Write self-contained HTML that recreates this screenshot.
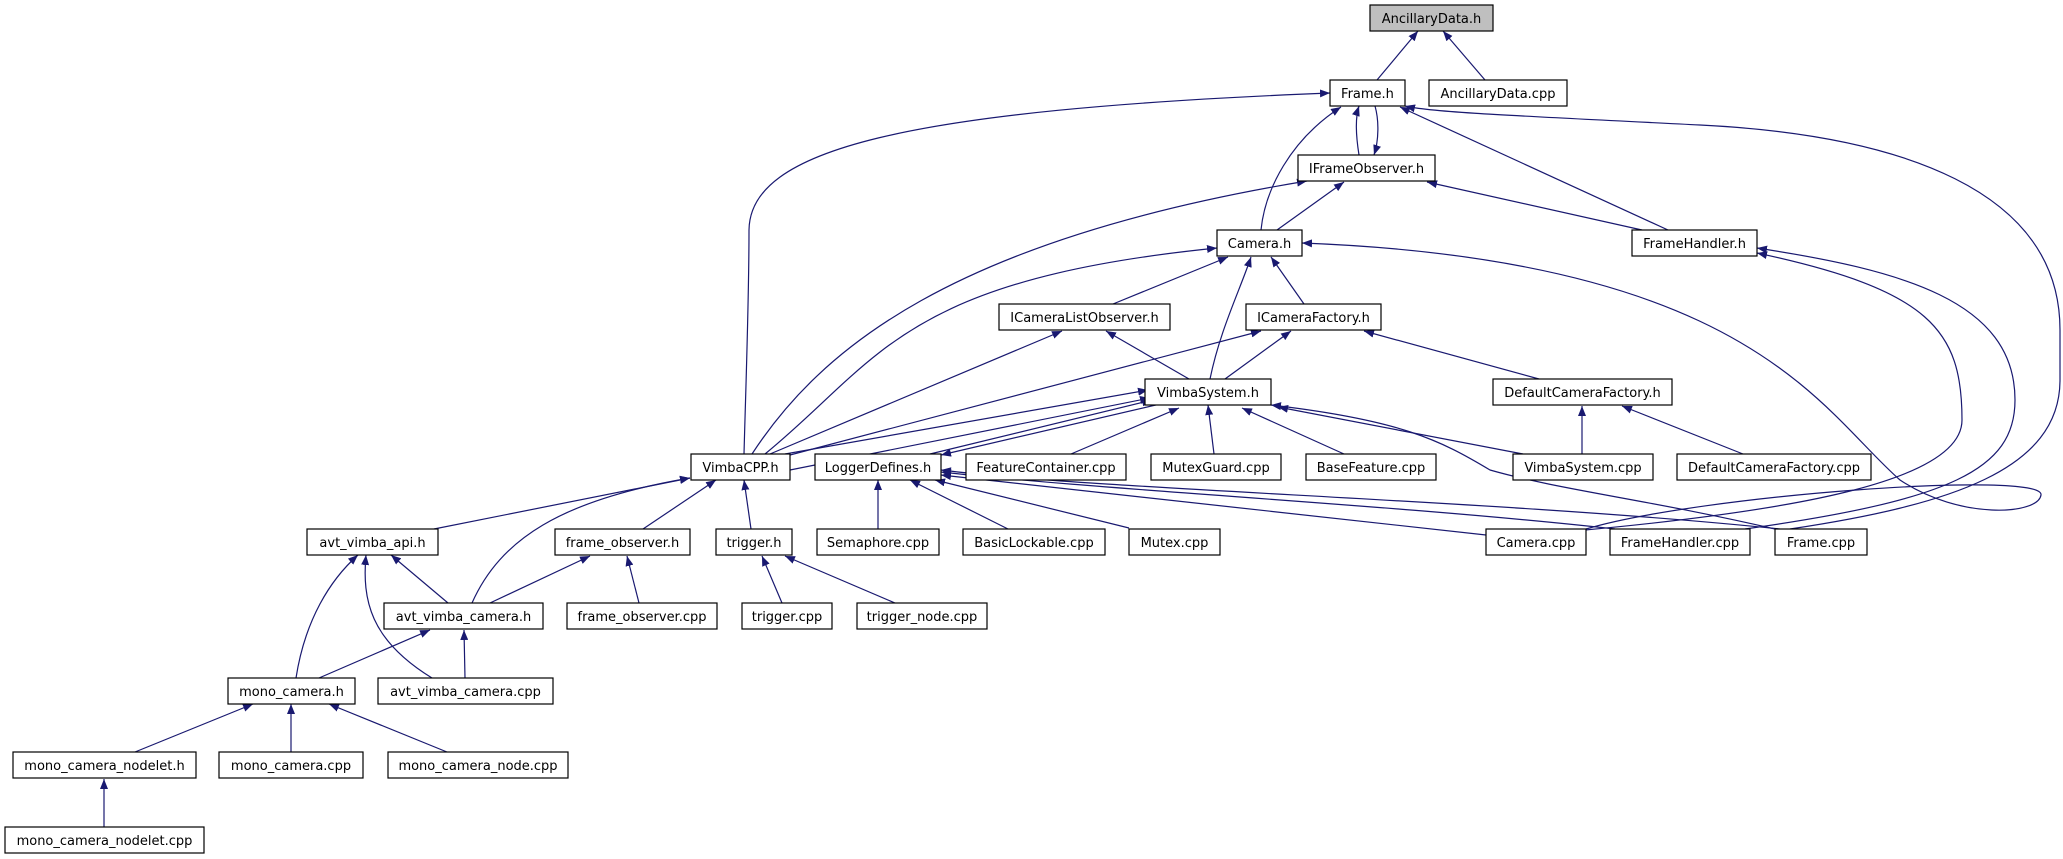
<!DOCTYPE html>
<html><head><meta charset="utf-8"><style>
html,body{margin:0;padding:0;background:#fff}
svg{display:block}
text{font-family:"DejaVu Sans","Liberation Sans",sans-serif;font-size:13px;fill:#000}
.e{fill:none;stroke:#191970;stroke-width:1.2}
.n{fill:#fff;stroke:#000;stroke-width:1.2}
</style></head><body>
<svg width="2063" height="859" viewBox="0 0 2063 859" xmlns="http://www.w3.org/2000/svg">
<defs><marker id="a" viewBox="0 0 10 8" refX="10" refY="4" markerWidth="10" markerHeight="8" markerUnits="userSpaceOnUse" orient="auto"><path d="M0,0 L10,4 L0,8 z" fill="#191970"/></marker></defs>
<g class="e" marker-end="url(#a)">
<path d="M1377,80 L1418,31"/>
<path d="M1485,80 L1443,31"/>
<path d="M1359,155 C1355,130 1356,115 1359,106"/>
<path d="M1375,106 C1379,120 1379,140 1374,155"/>
<path d="M1261,230 C1265,190 1290,140 1341,107"/>
<path d="M1668,230 L1400,107"/>
<path d="M744,454 C746,380 749,300 749,230 C750,150 900,110 1330,93"/>
<path d="M1790,529 C1950,505 2060,470 2060,380 L2060,330 C2060,190 1900,135 1700,125 C1500,115 1430,112 1405,106"/>
<path d="M1277,230 L1344,182"/>
<path d="M1642,230 L1427,182"/>
<path d="M752,454 C820,350 950,240 1307,181"/>
<path d="M765,454 C880,360 900,280 1217,248"/>
<path d="M1113,304 L1228,257"/>
<path d="M1304,304 L1271,257"/>
<path d="M1210,379 C1220,330 1240,290 1251,257"/>
<path d="M1586,529 C1700,495 2045,470 2041,495 C2038,515 1960,520 1900,480 C1820,410 1750,260 1302,243"/>
<path d="M1745,529 C1950,500 2015,470 2015,400 C2015,300 1900,270 1757,248"/>
<path d="M1585,530 C1800,510 1962,480 1962,420 C1962,330 1930,290 1757,253"/>
<path d="M1189,379 L1106,331"/>
<path d="M770,454 L1062,331"/>
<path d="M1225,379 L1291,331"/>
<path d="M790,455 L1261,331"/>
<path d="M1539,379 L1364,331"/>
<path d="M785,454 L1148,390"/>
<path d="M790,470 L1150,398"/>
<path d="M930,454 L1152,400"/>
<path d="M1160,404 L941,455"/>
<path d="M1071,454 L1179,408"/>
<path d="M1214,454 L1208,405"/>
<path d="M1344,454 L1242,408"/>
<path d="M1523,454 L1278,407"/>
<path d="M1775,529 C1650,500 1560,490 1490,470 C1440,440 1400,420 1271,405"/>
<path d="M1582,454 L1582,406"/>
<path d="M1743,454 L1622,406"/>
<path d="M878,529 L878,480"/>
<path d="M1008,529 L910,480"/>
<path d="M1129,528 L935,480"/>
<path d="M1486,535 L941,475"/>
<path d="M1615,529 C1400,505 1100,490 941,472"/>
<path d="M1780,529 C1500,500 1100,490 941,470"/>
<path d="M434,529 L690,478"/>
<path d="M643,529 L716,480"/>
<path d="M751,529 L744,480"/>
<path d="M472,603 C500,540 560,500 690,478"/>
<path d="M448,603 L391,555"/>
<path d="M296,678 C305,620 330,580 358,555"/>
<path d="M432,678 C370,640 362,600 366,555"/>
<path d="M490,603 L590,556"/>
<path d="M639,603 L627,556"/>
<path d="M782,603 L762,556"/>
<path d="M895,603 L785,556"/>
<path d="M319,678 L430,630"/>
<path d="M465,678 L464,630"/>
<path d="M135,752 L253,704"/>
<path d="M291,752 L291,704"/>
<path d="M447,752 L329,704"/>
<path d="M104,827 L104,779"/>
</g>
<g>
<rect x="1370" y="5" width="123" height="26" fill="#bfbfbf" stroke="#000" stroke-width="1.2"/><text x="1431.5" y="23" text-anchor="middle">AncillaryData.h</text>
</g>
<g text-anchor="middle">
<rect class="n" x="1330" y="80" width="75" height="26"/><text x="1367.5" y="98">Frame.h</text>
<rect class="n" x="1429" y="80" width="138" height="26"/><text x="1498" y="98">AncillaryData.cpp</text>
<rect class="n" x="1298" y="155" width="137" height="26"/><text x="1366.5" y="173">IFrameObserver.h</text>
<rect class="n" x="1217" y="230" width="85" height="26"/><text x="1259.5" y="248">Camera.h</text>
<rect class="n" x="1632" y="230" width="125" height="26"/><text x="1694.5" y="248">FrameHandler.h</text>
<rect class="n" x="999" y="304" width="171" height="26"/><text x="1084.5" y="322">ICameraListObserver.h</text>
<rect class="n" x="1246" y="304" width="135" height="26"/><text x="1313.5" y="322">ICameraFactory.h</text>
<rect class="n" x="1145" y="379" width="126" height="26"/><text x="1208" y="397">VimbaSystem.h</text>
<rect class="n" x="1493" y="379" width="179" height="26"/><text x="1582.5" y="397">DefaultCameraFactory.h</text>
<rect class="n" x="691" y="454" width="99" height="26"/><text x="740.5" y="472">VimbaCPP.h</text>
<rect class="n" x="815" y="454" width="126" height="26"/><text x="878" y="472">LoggerDefines.h</text>
<rect class="n" x="966" y="454" width="160" height="26"/><text x="1046" y="472">FeatureContainer.cpp</text>
<rect class="n" x="1151" y="454" width="130" height="26"/><text x="1216" y="472">MutexGuard.cpp</text>
<rect class="n" x="1306" y="454" width="130" height="26"/><text x="1371" y="472">BaseFeature.cpp</text>
<rect class="n" x="1513" y="454" width="140" height="26"/><text x="1583" y="472">VimbaSystem.cpp</text>
<rect class="n" x="1677" y="454" width="194" height="26"/><text x="1774" y="472">DefaultCameraFactory.cpp</text>
<rect class="n" x="307" y="529" width="131" height="26"/><text x="372.5" y="547">avt_vimba_api.h</text>
<rect class="n" x="555" y="529" width="135" height="26"/><text x="622.5" y="547">frame_observer.h</text>
<rect class="n" x="716" y="529" width="76" height="26"/><text x="754" y="547">trigger.h</text>
<rect class="n" x="817" y="529" width="122" height="26"/><text x="878" y="547">Semaphore.cpp</text>
<rect class="n" x="963" y="529" width="142" height="26"/><text x="1034" y="547">BasicLockable.cpp</text>
<rect class="n" x="1129" y="529" width="91" height="26"/><text x="1174.5" y="547">Mutex.cpp</text>
<rect class="n" x="1486" y="529" width="100" height="26"/><text x="1536" y="547">Camera.cpp</text>
<rect class="n" x="1610" y="529" width="140" height="26"/><text x="1680" y="547">FrameHandler.cpp</text>
<rect class="n" x="1775" y="529" width="92" height="26"/><text x="1821" y="547">Frame.cpp</text>
<rect class="n" x="384" y="603" width="159" height="26"/><text x="463.5" y="621">avt_vimba_camera.h</text>
<rect class="n" x="567" y="603" width="150" height="26"/><text x="642" y="621">frame_observer.cpp</text>
<rect class="n" x="742" y="603" width="90" height="26"/><text x="787" y="621">trigger.cpp</text>
<rect class="n" x="857" y="603" width="130" height="26"/><text x="922" y="621">trigger_node.cpp</text>
<rect class="n" x="228" y="678" width="127" height="26"/><text x="291.5" y="696">mono_camera.h</text>
<rect class="n" x="378" y="678" width="175" height="26"/><text x="465.5" y="696">avt_vimba_camera.cpp</text>
<rect class="n" x="13" y="752" width="183" height="26"/><text x="104.5" y="770">mono_camera_nodelet.h</text>
<rect class="n" x="219" y="752" width="144" height="26"/><text x="291" y="770">mono_camera.cpp</text>
<rect class="n" x="388" y="752" width="180" height="26"/><text x="478" y="770">mono_camera_node.cpp</text>
<rect class="n" x="5" y="827" width="199" height="26"/><text x="104.5" y="845">mono_camera_nodelet.cpp</text>
</g>
</svg>
</body></html>
